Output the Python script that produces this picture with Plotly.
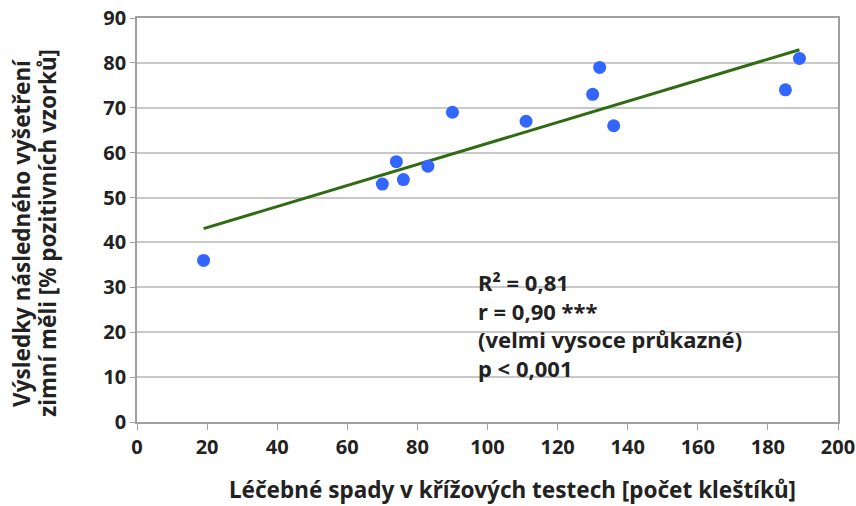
import numpy as np
import plotly.graph_objects as go

# Data
treatment_fall = [19, 70, 74, 76, 83, 90, 111, 130, 132, 136, 185, 189]
positive_pct = [36, 53, 58, 54, 57, 69, 67, 73, 79, 66, 74, 81]

x_ticks = [0, 20, 40, 60, 80, 100, 120, 140, 160, 180, 200]
y_ticks = [0, 10, 20, 30, 40, 50, 60, 70, 80, 90]

stats_lines = ["R² = 0,81", "r = 0,90 ***", "(velmi vysoce průkazné)", "p < 0,001"]

x_title = "Léčebné spady v křížových testech [počet kleštíků]"
y_title_lines = ["Výsledky následného vyšetření", "zimní měli [% pozitivních vzorků]"]

# Linear trend line (least squares fit of the data above)
slope, intercept = np.polyfit(treatment_fall, positive_pct, 1)
trend_x = [min(treatment_fall), max(treatment_fall)]
trend_y = [slope * v + intercept for v in trend_x]

FONT = "Noto Sans"
TXT = "#222222"

fig = go.Figure()
fig.add_trace(go.Scatter(
    x=trend_x, y=trend_y, mode="lines",
    line=dict(color="#2e6b12", width=3), hoverinfo="skip", showlegend=False,
))
fig.add_trace(go.Scatter(
    x=treatment_fall, y=positive_pct, mode="markers",
    marker=dict(color="#3366ff", size=13, line=dict(width=0)), showlegend=False,
))

# white box behind the statistics text
fig.add_shape(type="rect", xref="x", yref="y", x0=94.2, x1=192.3, y0=8.3, y1=35.5,
              fillcolor="white", line=dict(width=0), layer="below")

fig.add_annotation(
    x=96.8, y=21.5, xref="x", yref="y", xanchor="left", yanchor="middle",
    text="<br>".join(stats_lines), showarrow=False, align="left",
    font=dict(family=FONT, size=22, color=TXT, weight="bold"),
)

# axis titles as annotations (positioned like the reference)
fig.add_annotation(
    x=0.5357, y=-0.168, xref="paper", yref="paper", xanchor="center", yanchor="middle",
    text=x_title, showarrow=False,
    font=dict(family=FONT, size=22.5, color=TXT, weight="bold"),
)
for txt, px in zip(y_title_lines, [-0.164, -0.127]):
    fig.add_annotation(
        x=px, y=0.468, xref="paper", yref="paper", xanchor="center", yanchor="middle",
        text=txt, showarrow=False, textangle=-90,
        font=dict(family=FONT, size=22.5, color=TXT, weight="bold"),
    )

fig.update_layout(
    width=856, height=506,
    margin=dict(l=137, r=18, t=18, b=84),
    paper_bgcolor="white", plot_bgcolor="white",
    font=dict(family=FONT, color=TXT, size=20, weight="bold"),
)
fig.update_xaxes(
    range=[0, 200], tickvals=x_ticks, showgrid=False, zeroline=False,
    showline=True, linecolor="#a0a0a0", linewidth=1.5, mirror=True,
    ticks="outside", ticklen=6, tickcolor="#a0a0a0", automargin=False,
    tickfont=dict(family=FONT, size=20, color=TXT, weight="bold"),
)
fig.update_yaxes(
    range=[0, 90], tickvals=y_ticks, showgrid=True, gridcolor="#c8c8c8", gridwidth=1.5,
    zeroline=False, showline=True, linecolor="#a0a0a0", linewidth=1.5, mirror=True,
    ticks="outside", ticklen=5, tickcolor="#a0a0a0", automargin=False,
    tickfont=dict(family=FONT, size=20, color=TXT, weight="bold"),
)

fig.write_html("out.html", config={"displayModeBar": False},
               post_script="document.body.style.margin='0';document.body.style.padding='0';")
